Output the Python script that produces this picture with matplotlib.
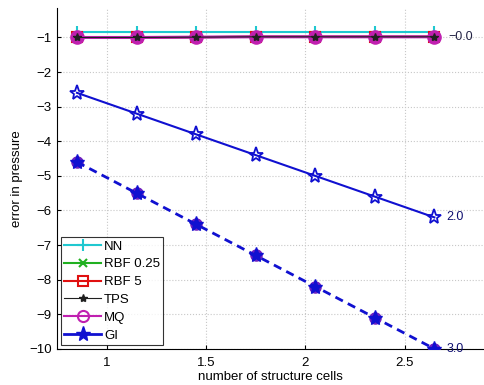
import matplotlib.pyplot as plt
import numpy as np

plt.rcParams['font.family'] = ['Liberation Sans', 'DejaVu Sans']

# log10 of the number of structure cells (7, 14, 28, ... 448)
cells = [0.85, 1.15, 1.45, 1.75, 2.05, 2.35, 2.65]

err_nn = [-0.83, -0.83, -0.83, -0.83, -0.83, -0.83, -0.83]
err_rbf025 = [-1.0, -1.0, -0.99, -0.98, -0.98, -0.98, -0.98]
err_rbf5 = [-1.0, -1.0, -0.99, -0.98, -0.98, -0.98, -0.98]
err_tps = [-1.0, -1.0, -0.99, -0.98, -0.98, -0.98, -0.98]
err_mq = [-1.0, -1.0, -0.99, -0.98, -0.98, -0.98, -0.98]
err_gi = [-2.6, -3.2, -3.8, -4.4, -5.0, -5.6, -6.2]
err_gi_dash = [-4.6, -5.5, -6.4, -7.3, -8.2, -9.1, -10.0]

slopes = ['\u22120.0', '2.0', '3.0']

fig = plt.figure(figsize=(4.84, 3.85), dpi=100)
ax = fig.add_axes([0.118, 0.094, 0.882, 0.885])

lw = 1.5
ax.plot(cells, err_nn, '-', color='#20c8d0', marker='+', ms=8, mew=1.5, lw=lw, label='NN')
ax.plot(cells, err_rbf025, '-', color='#20b020', marker='x', ms=6, mew=1.5, lw=lw, label='RBF 0.25', zorder=2)
ax.plot(cells, err_rbf5, '-', color='#e01010', marker='s', ms=7, mfc='none', mew=1.5, lw=lw, label='RBF 5', zorder=2)
ax.plot(cells, err_mq, '-', color='#c020b0', marker='o', ms=9, mfc='#c020b0', mew=1.5, lw=2.2, zorder=3)
ax.plot(cells, err_tps, '-', color='#202020', marker='*', ms=6, lw=0.8, label='TPS', zorder=4)
ax.plot([], [], '-', color='#c020b0', marker='o', ms=8, mfc='none', mew=1.5, lw=lw, label='MQ')
ax.plot(cells, err_gi, '-', color='#1010d0', marker='*', ms=11, mfc='none', mew=1.3, lw=lw, zorder=4)
ax.plot([], [], '-', color='#1010d0', marker='*', ms=11, mfc='#1010d0', lw=2, label='GI')

# second GI series, drawn dashed
ax.plot(cells, err_gi_dash, linestyle='none', color='#7020c0', marker='o', ms=8, mfc='#7020c0', zorder=3)
ax.plot(cells, err_gi_dash, linestyle=(0, (3, 2)), color='#1010d0', marker='*', ms=11,
        mfc='#1010d0', lw=2, zorder=4)

ax.text(cells[-1] + 0.07, err_mq[-1], slopes[0], fontsize=9, color='#222244', va='center', ha='left')
ax.text(cells[-1] + 0.06, err_gi[-1], slopes[1], fontsize=9, color='#101070', va='center', ha='left')
ax.text(cells[-1] + 0.06, err_gi_dash[-1], slopes[2], fontsize=9, color='#101070', va='center', ha='left')

ax.set_xlim(0.75, 2.9)
ax.set_ylim(-10, -0.15)
ax.set_xticks([1, 1.5, 2, 2.5])
ax.set_xticklabels(['1', '1.5', '2', '2.5'])
ax.set_yticks(np.arange(-10, 0))
ax.set_yticklabels(['\u2212%d' % v for v in range(10, 0, -1)])
ax.tick_params(labelsize=9.5, direction='in', length=3)
ax.tick_params(axis='x', pad=6)
ax.tick_params(axis='y', pad=4)
ax.grid(True, linestyle=':', color='#c8c8c8', lw=0.8)
ax.set_axisbelow(True)

for side in ['top', 'right']:
    ax.spines[side].set_visible(False)

ax.set_xlabel('number of structure cells', fontsize=9.5, labelpad=1)
ax.set_ylabel('error in pressure', fontsize=9.5, labelpad=4)

leg = ax.legend(loc='lower left', fontsize=9.5, frameon=True, fancybox=False,
                edgecolor='black', handlelength=2.8, borderpad=0.25,
                labelspacing=0.42, handletextpad=0.2, borderaxespad=0.3)
leg.get_frame().set_linewidth(0.8)

fig.savefig('out.png', dpi=100)
